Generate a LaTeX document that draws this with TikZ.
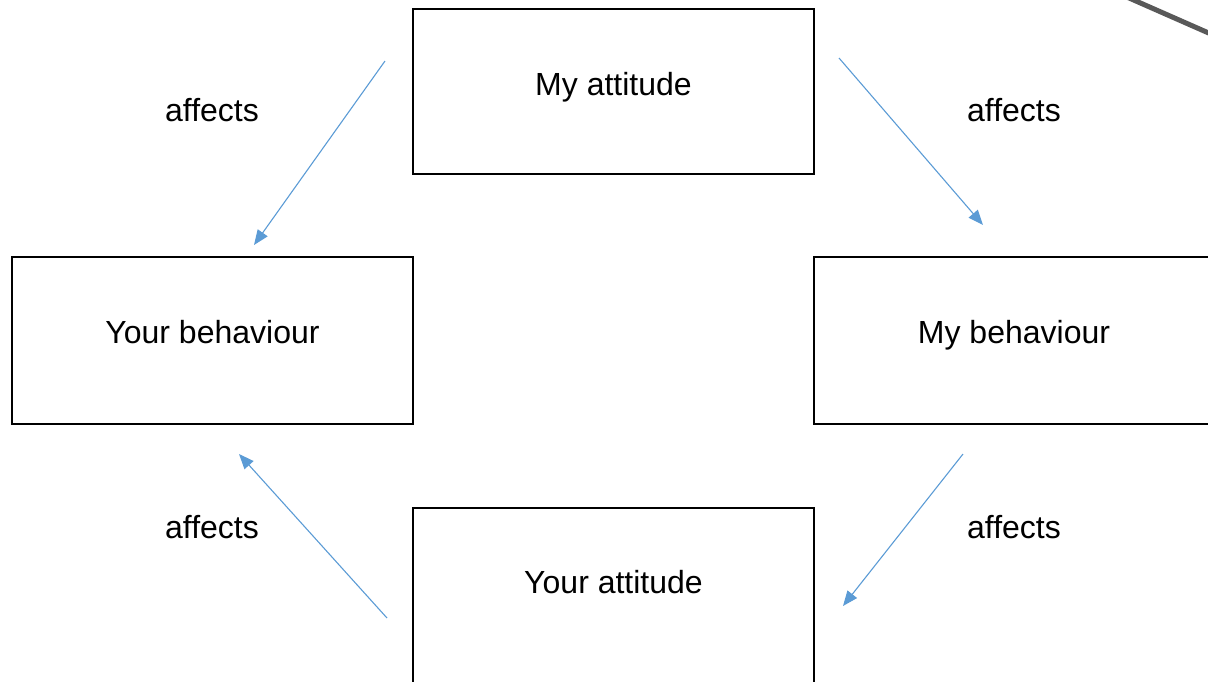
\documentclass[tikz,border=0pt]{standalone}
\usepackage{fontspec}
\setmainfont{Liberation Sans}
\usetikzlibrary{arrows.meta}
\definecolor{arrowblue}{HTML}{5B9BD5}
\definecolor{rulegray}{HTML}{595959}
\begin{document}
\begin{tikzpicture}[x=1pt,y=-1pt,
  box/.style={draw=black,line width=2pt,rectangle,inner sep=0pt},
  txt/.style={font=\fontsize{32}{38}\selectfont,inner sep=0pt,anchor=base},
  flow/.style={draw=arrowblue,line width=1.1pt,-{Triangle[length=15pt,width=12pt]}}]
\useasboundingbox (0,0) rectangle (1208,681);
\clip (0,0) rectangle (1208,681);
% boxes
\node[box,minimum width=401pt,minimum height=165pt] (ma) at (613.5,91.5) {};
\node[box,minimum width=401pt,minimum height=167pt] (yb) at (212.5,340.5) {};
\node[box,minimum width=420pt,minimum height=167pt] (mb) at (1024,340.5) {};
\node[box,minimum width=401pt,minimum height=200pt] (ya) at (613.5,608) {};
% box texts
\node[txt] (tma) at (613.5,95) {My attitude};
\node[txt] (tyb) at (212.5,343) {Your behaviour};
\node[txt] (tmb) at (1014,343) {My behaviour};
\node[txt] (tya) at (613.5,593) {Your attitude};
% edge labels
\node[txt] (l1) at (212,121) {affects};
\node[txt] (l2) at (1014,121) {affects};
\node[txt] (l3) at (212,538) {affects};
\node[txt] (l4) at (1014,538) {affects};
% arrow end points
\coordinate (a1s) at (385,61);  \coordinate (a1e) at (254,245);
\coordinate (a2s) at (839,58);  \coordinate (a2e) at (983,225);
\coordinate (a3s) at (963,454); \coordinate (a3e) at (843,606);
\coordinate (a4s) at (387,618); \coordinate (a4e) at (239,454);
\draw[flow] (a1s) -- (a1e);
\draw[flow] (a2s) -- (a2e);
\draw[flow] (a3s) -- (a3e);
\draw[flow] (a4s) -- (a4e);
% stray connector at top right
\coordinate (g1) at (1120,-6);
\coordinate (g2) at (1220,38);
\draw[rulegray,line width=5pt] (g1) -- (g2);
\end{tikzpicture}
\end{document}
